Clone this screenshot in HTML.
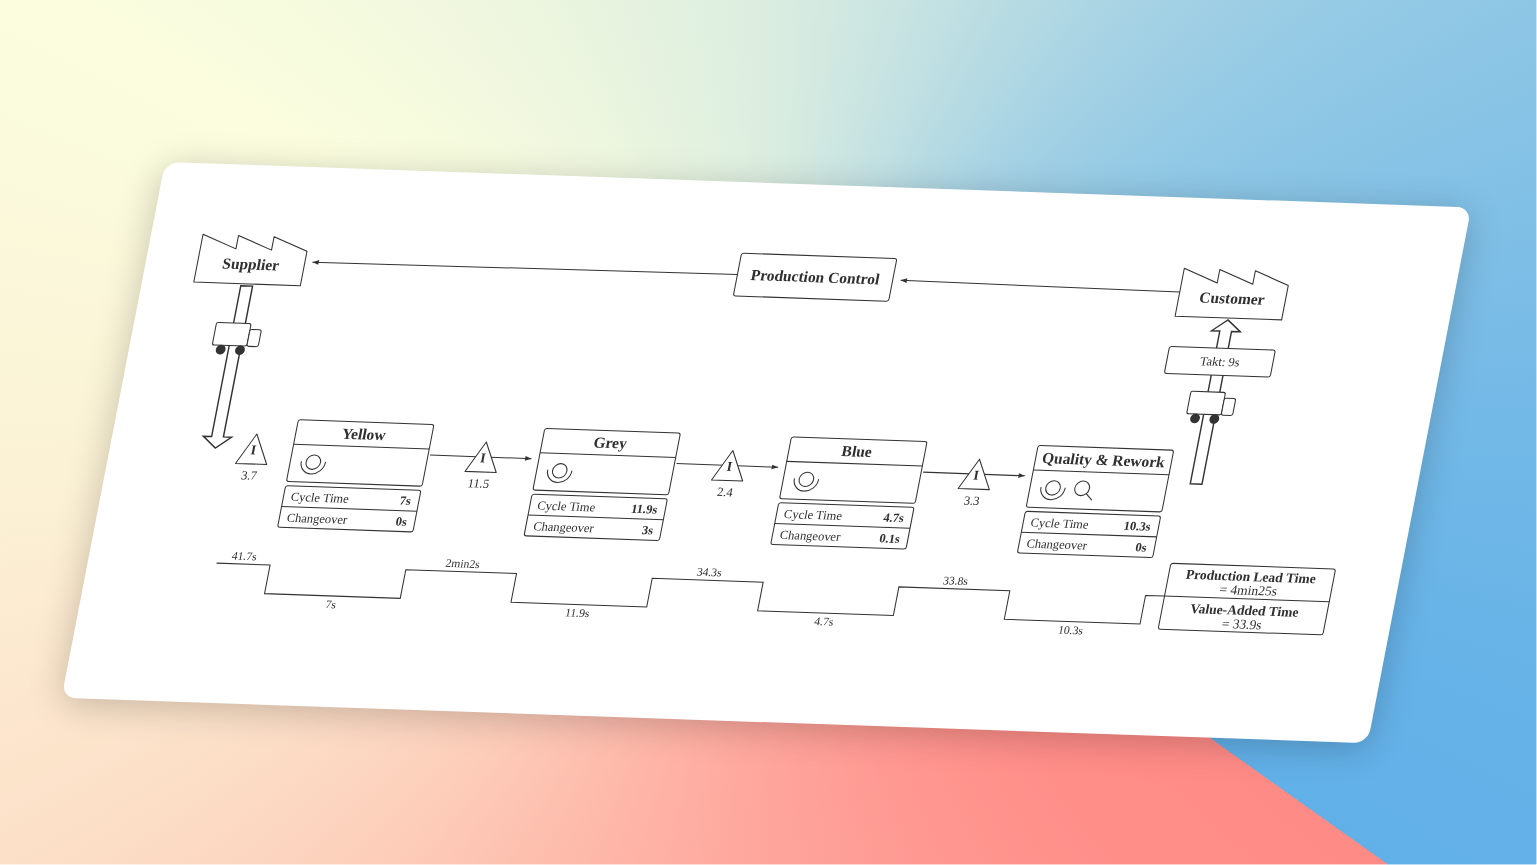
<!DOCTYPE html>
<html><head><meta charset="utf-8"><title>Value Stream Map</title>
<style>
html,body{margin:0;padding:0;background:#fff;}
body{width:1537px;height:865px;overflow:hidden;position:relative;font-family:"Liberation Serif",serif;}
#bg{position:absolute;left:0;top:0;width:1536px;height:864px;background:conic-gradient(from 125.4deg at 771.2px 426.1px, rgb(255,139,135) 0.00%, rgb(255,140,135) 1.67%, rgb(255,141,136) 3.33%, rgb(255,143,138) 5.00%, rgb(255,146,140) 6.67%, rgb(255,150,143) 8.33%, rgb(254,153,146) 10.00%, rgb(254,157,149) 11.67%, rgb(254,161,152) 13.33%, rgb(254,165,155) 15.00%, rgb(254,169,158) 16.67%, rgb(254,174,162) 18.33%, rgb(254,179,166) 20.00%, rgb(253,185,170) 21.67%, rgb(253,191,175) 23.33%, rgb(253,198,180) 25.00%, rgb(253,205,185) 26.67%, rgb(252,211,190) 28.33%, rgb(252,217,195) 30.00%, rgb(252,223,199) 31.67%, rgb(252,228,203) 33.33%, rgb(252,232,206) 35.00%, rgb(252,236,209) 36.67%, rgb(251,240,212) 38.33%, rgb(251,243,214) 40.00%, rgb(251,245,216) 41.67%, rgb(251,247,218) 43.33%, rgb(251,249,219) 45.00%, rgb(251,251,221) 46.67%, rgb(251,253,222) 48.33%, rgb(249,252,222) 50.00%, rgb(246,251,222) 51.67%, rgb(243,249,223) 53.33%, rgb(240,247,223) 55.00%, rgb(237,246,223) 56.67%, rgb(233,244,223) 58.33%, rgb(230,242,223) 60.00%, rgb(226,241,224) 61.67%, rgb(223,239,224) 63.33%, rgb(219,237,224) 65.00%, rgb(213,234,224) 66.67%, rgb(207,231,225) 68.33%, rgb(200,227,225) 70.00%, rgb(192,224,226) 71.67%, rgb(184,219,226) 73.33%, rgb(175,215,227) 75.00%, rgb(166,210,228) 76.67%, rgb(158,206,228) 78.33%, rgb(150,203,229) 80.00%, rgb(143,199,229) 81.67%, rgb(137,196,229) 83.33%, rgb(131,193,230) 85.00%, rgb(125,190,230) 86.67%, rgb(120,187,231) 88.33%, rgb(115,185,231) 90.00%, rgb(110,183,231) 91.67%, rgb(107,181,231) 93.33%, rgb(103,179,232) 95.00%, rgb(101,178,232) 96.67%, rgb(99,177,232) 98.33%, rgb(97,176,232) 100.00%);}
#edgeR{position:absolute;left:1536px;top:0;width:1px;height:865px;background:conic-gradient(from 125.4deg at 771.2px 426.1px, rgb(255,139,135) 0.00%, rgb(255,140,135) 1.67%, rgb(255,141,136) 3.33%, rgb(255,143,138) 5.00%, rgb(255,146,140) 6.67%, rgb(255,150,143) 8.33%, rgb(254,153,146) 10.00%, rgb(254,157,149) 11.67%, rgb(254,161,152) 13.33%, rgb(254,165,155) 15.00%, rgb(254,169,158) 16.67%, rgb(254,174,162) 18.33%, rgb(254,179,166) 20.00%, rgb(253,185,170) 21.67%, rgb(253,191,175) 23.33%, rgb(253,198,180) 25.00%, rgb(253,205,185) 26.67%, rgb(252,211,190) 28.33%, rgb(252,217,195) 30.00%, rgb(252,223,199) 31.67%, rgb(252,228,203) 33.33%, rgb(252,232,206) 35.00%, rgb(252,236,209) 36.67%, rgb(251,240,212) 38.33%, rgb(251,243,214) 40.00%, rgb(251,245,216) 41.67%, rgb(251,247,218) 43.33%, rgb(251,249,219) 45.00%, rgb(251,251,221) 46.67%, rgb(251,253,222) 48.33%, rgb(249,252,222) 50.00%, rgb(246,251,222) 51.67%, rgb(243,249,223) 53.33%, rgb(240,247,223) 55.00%, rgb(237,246,223) 56.67%, rgb(233,244,223) 58.33%, rgb(230,242,223) 60.00%, rgb(226,241,224) 61.67%, rgb(223,239,224) 63.33%, rgb(219,237,224) 65.00%, rgb(213,234,224) 66.67%, rgb(207,231,225) 68.33%, rgb(200,227,225) 70.00%, rgb(192,224,226) 71.67%, rgb(184,219,226) 73.33%, rgb(175,215,227) 75.00%, rgb(166,210,228) 76.67%, rgb(158,206,228) 78.33%, rgb(150,203,229) 80.00%, rgb(143,199,229) 81.67%, rgb(137,196,229) 83.33%, rgb(131,193,230) 85.00%, rgb(125,190,230) 86.67%, rgb(120,187,231) 88.33%, rgb(115,185,231) 90.00%, rgb(110,183,231) 91.67%, rgb(107,181,231) 93.33%, rgb(103,179,232) 95.00%, rgb(101,178,232) 96.67%, rgb(99,177,232) 98.33%, rgb(97,176,232) 100.00%);background-size:1536px 864px;background-position:-1535px 0;background-repeat:no-repeat;opacity:.44;}
#edgeB{position:absolute;left:0;top:864px;width:1537px;height:1px;background:conic-gradient(from 125.4deg at 771.2px 426.1px, rgb(255,139,135) 0.00%, rgb(255,140,135) 1.67%, rgb(255,141,136) 3.33%, rgb(255,143,138) 5.00%, rgb(255,146,140) 6.67%, rgb(255,150,143) 8.33%, rgb(254,153,146) 10.00%, rgb(254,157,149) 11.67%, rgb(254,161,152) 13.33%, rgb(254,165,155) 15.00%, rgb(254,169,158) 16.67%, rgb(254,174,162) 18.33%, rgb(254,179,166) 20.00%, rgb(253,185,170) 21.67%, rgb(253,191,175) 23.33%, rgb(253,198,180) 25.00%, rgb(253,205,185) 26.67%, rgb(252,211,190) 28.33%, rgb(252,217,195) 30.00%, rgb(252,223,199) 31.67%, rgb(252,228,203) 33.33%, rgb(252,232,206) 35.00%, rgb(252,236,209) 36.67%, rgb(251,240,212) 38.33%, rgb(251,243,214) 40.00%, rgb(251,245,216) 41.67%, rgb(251,247,218) 43.33%, rgb(251,249,219) 45.00%, rgb(251,251,221) 46.67%, rgb(251,253,222) 48.33%, rgb(249,252,222) 50.00%, rgb(246,251,222) 51.67%, rgb(243,249,223) 53.33%, rgb(240,247,223) 55.00%, rgb(237,246,223) 56.67%, rgb(233,244,223) 58.33%, rgb(230,242,223) 60.00%, rgb(226,241,224) 61.67%, rgb(223,239,224) 63.33%, rgb(219,237,224) 65.00%, rgb(213,234,224) 66.67%, rgb(207,231,225) 68.33%, rgb(200,227,225) 70.00%, rgb(192,224,226) 71.67%, rgb(184,219,226) 73.33%, rgb(175,215,227) 75.00%, rgb(166,210,228) 76.67%, rgb(158,206,228) 78.33%, rgb(150,203,229) 80.00%, rgb(143,199,229) 81.67%, rgb(137,196,229) 83.33%, rgb(131,193,230) 85.00%, rgb(125,190,230) 86.67%, rgb(120,187,231) 88.33%, rgb(115,185,231) 90.00%, rgb(110,183,231) 91.67%, rgb(107,181,231) 93.33%, rgb(103,179,232) 95.00%, rgb(101,178,232) 96.67%, rgb(99,177,232) 98.33%, rgb(97,176,232) 100.00%);background-size:1536px 864px;background-position:0 -863px;background-repeat:no-repeat;opacity:.44;}
#card{position:absolute;left:0;top:0;width:1306.6px;height:539.3px;background:#fff;border-radius:14px;
 transform-origin:0 0;transform:matrix(0.99939,0.03475,-0.19221,0.99406,165.1,161.95);
 box-shadow:0 6px 36px rgba(0,0,0,.21);}
svg{position:absolute;left:0;top:0;overflow:visible;filter:grayscale(1);}
.s{fill:#fff;stroke:#333;stroke-width:1.05;stroke-linejoin:round;}
.s2{fill:#fff;stroke:#333;stroke-width:1.45;stroke-linejoin:miter;}
.n{fill:none;stroke:#333;stroke-width:1.05;stroke-linecap:round;stroke-linejoin:miter;}
.f{fill:#333;stroke:none;}
text{font-family:"Liberation Serif",serif;fill:#303030;}
.b{font-weight:bold;}
.r{font-weight:normal;}
.t16{font-size:15.45px;}
.t14{font-size:13.5px;}
.t13{font-size:12.5px;}
.t12{font-size:11.6px;}
</style></head><body>
<div id="bg"></div><div id="edgeR"></div><div id="edgeB"></div>
<div id="card">
<svg width="1306.6" height="539.3" viewBox="0 0 1306.6 539.3">
<path class="s2" d="M99,121 L110.8,121 L110.8,272.7 L119.1,272.7 L104.9,284.1 L90.8,272.7 L99,272.7 Z"/>
<path class="s" d="M51.6,119.0 L51.6,70.9 L87.1,84.4 L87.1,70.9 L122.7,84.4 L122.7,70.9 L158.2,84.4 L158.2,119.0 Z"/>
<text class="b t16" x="104.9" y="104.5" text-anchor="middle">Supplier</text>
<rect class="s" x="82.0" y="158.6" width="34.6" height="22.6" rx="2"/>
<rect class="s" x="116.6" y="164.4" width="11.4" height="17" rx="2"/>
<circle class="f" cx="91.3" cy="185.6" r="4.85"/>
<circle class="f" cx="110.6" cy="185.6" r="4.85"/>
<path class="s2" d="M1080.8,286 L1080.8,132.3 L1072.5,132.3 L1086.8,120.9 L1101.2,132.3 L1092.5,132.3 L1092.5,286 Z"/>
<path class="s" d="M1033.5,119.0 L1033.5,70.9 L1069.0,84.4 L1069.0,70.9 L1104.6,84.4 L1104.6,70.9 L1140.1,84.4 L1140.1,119.0 Z"/>
<text class="b t16" x="1086.8" y="104.5" text-anchor="middle">Customer</text>
<rect class="s" x="1033.8" y="149.4" width="105.9" height="27.1" rx="2.2"/>
<text class="r t13" x="1086.7" y="167.1" text-anchor="middle">Takt: 9s</text>
<rect class="s" x="1063.7" y="193.5" width="34.6" height="22.6" rx="2"/>
<rect class="s" x="1098.3" y="199.3" width="11.4" height="17" rx="2"/>
<circle class="f" cx="1073.0" cy="220.5" r="4.85"/>
<circle class="f" cx="1092.3" cy="220.5" r="4.85"/>
<rect class="s" x="590.5" y="71.1" width="155.4" height="43" rx="2.2"/>
<text class="b t16" x="668.3" y="97.6" text-anchor="middle">Production Control</text>
<line class="s" x1="590.5" y1="92.5" x2="165.7" y2="95.1"/>
<path class="f" d="M165.7,95.1 L172.0,92.7 L172.0,97.4 Z"/>
<line class="s" x1="1033.4" y1="94.8" x2="753.8" y2="92.7"/>
<path class="f" d="M753.8,92.7 L760.1,90.4 L760.1,95.1 Z"/>
<line class="s" x1="319.7" y1="283.6" x2="421.2" y2="283.8"/>
<path class="f" d="M421.2,283.8 L414.9,286.1 L414.9,281.4 Z"/>
<line class="s" x1="566.3" y1="283.6" x2="668.0" y2="283.8"/>
<path class="f" d="M668.0,283.8 L661.7,286.1 L661.7,281.4 Z"/>
<line class="s" x1="813.1" y1="283.6" x2="914.8" y2="283.8"/>
<path class="f" d="M914.8,283.8 L908.5,286.1 L908.5,281.4 Z"/>
<path class="s" d="M143.5,268.7 L127.9,298.8 L159.1,298.8 Z"/>
<text class="b t14" x="143.3" y="289.2" text-anchor="middle">I</text>
<text class="r t13" x="143.7" y="314.5" text-anchor="middle">3.7</text>
<path class="s" d="M373.1,268.7 L357.5,298.8 L388.8,298.8 Z"/>
<text class="b t14" x="372.9" y="289.2" text-anchor="middle">I</text>
<text class="r t13" x="373.3" y="314.5" text-anchor="middle">11.5</text>
<path class="s" d="M619.8,268.7 L604.2,298.8 L635.4,298.8 Z"/>
<text class="b t14" x="619.6" y="289.2" text-anchor="middle">I</text>
<text class="r t13" x="620.0" y="314.5" text-anchor="middle">2.4</text>
<path class="s" d="M866.6,268.7 L851.0,298.8 L882.2,298.8 Z"/>
<text class="b t14" x="866.4" y="289.2" text-anchor="middle">I</text>
<text class="r t13" x="866.9" y="314.5" text-anchor="middle">3.3</text>
<rect class="s" x="182.0" y="253" width="135.7" height="62.1" rx="2.2"/>
<line class="s" x1="182.0" y1="277.6" x2="317.7" y2="277.6"/>
<text class="b t16" x="249.8" y="270.4" text-anchor="middle">Yellow</text>
<circle class="n" cx="205.0" cy="294.9" r="7.2"/>
<path class="n" d="M192.9,294.6 A12.1,12.1 0 0 0 217.1,294.6"/>
<rect class="s" x="182.0" y="319.2" width="135.4" height="41.9" rx="2.2"/>
<line class="s" x1="182.0" y1="340.2" x2="317.4" y2="340.2"/>
<text class="r t13" x="189.5" y="334.3">Cycle Time</text>
<text class="b t13" x="309.4" y="334.3" text-anchor="end">7s</text>
<text class="r t13" x="189.5" y="355.3">Changeover</text>
<text class="b t13" x="309.4" y="355.3" text-anchor="end">0s</text>
<rect class="s" x="428.6" y="253" width="135.7" height="62.1" rx="2.2"/>
<line class="s" x1="428.6" y1="277.6" x2="564.3" y2="277.6"/>
<text class="b t16" x="496.5" y="270.4" text-anchor="middle">Grey</text>
<circle class="n" cx="451.6" cy="294.9" r="7.2"/>
<path class="n" d="M439.5,294.6 A12.1,12.1 0 0 0 463.7,294.6"/>
<rect class="s" x="428.6" y="319.2" width="135.4" height="41.9" rx="2.2"/>
<line class="s" x1="428.6" y1="340.2" x2="564.0" y2="340.2"/>
<text class="r t13" x="436.1" y="334.3">Cycle Time</text>
<text class="b t13" x="556.0" y="334.3" text-anchor="end">11.9s</text>
<text class="r t13" x="436.1" y="355.3">Changeover</text>
<text class="b t13" x="556.0" y="355.3" text-anchor="end">3s</text>
<rect class="s" x="675.4" y="253" width="135.7" height="62.1" rx="2.2"/>
<line class="s" x1="675.4" y1="277.6" x2="811.1" y2="277.6"/>
<text class="b t16" x="743.2" y="270.4" text-anchor="middle">Blue</text>
<circle class="n" cx="698.4" cy="294.9" r="7.2"/>
<path class="n" d="M686.3,294.6 A12.1,12.1 0 0 0 710.5,294.6"/>
<rect class="s" x="675.4" y="319.2" width="135.4" height="41.9" rx="2.2"/>
<line class="s" x1="675.4" y1="340.2" x2="810.8" y2="340.2"/>
<text class="r t13" x="682.9" y="334.3">Cycle Time</text>
<text class="b t13" x="802.8" y="334.3" text-anchor="end">4.7s</text>
<text class="r t13" x="682.9" y="355.3">Changeover</text>
<text class="b t13" x="802.8" y="355.3" text-anchor="end">0.1s</text>
<rect class="s" x="922.2" y="253" width="135.7" height="62.1" rx="2.2"/>
<line class="s" x1="922.2" y1="277.6" x2="1057.9" y2="277.6"/>
<text class="b t16" x="990.1" y="270.4" text-anchor="middle">Quality &amp; Rework</text>
<circle class="n" cx="945.2" cy="294.9" r="7.2"/>
<path class="n" d="M933.1,294.6 A12.1,12.1 0 0 0 957.3,294.6"/>
<circle class="n" cx="974.2" cy="294.3" r="7.3"/>
<line class="n" x1="979.5" y1="299.6" x2="985.8" y2="305.5"/>
<rect class="s" x="922.2" y="319.2" width="135.4" height="41.9" rx="2.2"/>
<line class="s" x1="922.2" y1="340.2" x2="1057.6" y2="340.2"/>
<text class="r t13" x="929.7" y="334.3">Cycle Time</text>
<text class="b t13" x="1049.6" y="334.3" text-anchor="end">10.3s</text>
<text class="r t13" x="929.7" y="355.3">Changeover</text>
<text class="b t13" x="1049.6" y="355.3" text-anchor="end">0s</text>
<path class="n" d="M128.6,399.1 L181.8,399.1 L181.8,427.9 L317.6,427.9 L317.6,399.1 L428.4,399.1 L428.4,427.9 L564.2,427.9 L564.2,399.1 L675.2,399.1 L675.2,427.9 L811.0,427.9 L811.0,399.1 L922.0,399.1 L922.0,427.9 L1057.8,427.9 L1057.8,399.1 L1076.8,399.1"/>
<text class="r t12" x="154.5" y="394.9" text-anchor="middle">41.7s</text>
<text class="r t12" x="373.0" y="394.9" text-anchor="middle">2min2s</text>
<text class="r t12" x="619.7" y="394.9" text-anchor="middle">34.3s</text>
<text class="r t12" x="866.3" y="394.9" text-anchor="middle">33.8s</text>
<text class="r t12" x="249.8" y="440.2" text-anchor="middle">7s</text>
<text class="r t12" x="496.4" y="440.2" text-anchor="middle">11.9s</text>
<text class="r t12" x="743.2" y="440.2" text-anchor="middle">4.7s</text>
<text class="r t12" x="990.0" y="440.2" text-anchor="middle">10.3s</text>
<rect class="s" x="1076.8" y="366.1" width="164.8" height="66.3" rx="2.2"/>
<line class="s" x1="1076.8" y1="399.1" x2="1241.6" y2="399.1"/>
<text class="b t14" x="1159" y="381.1" text-anchor="middle">Production Lead Time</text>
<text class="r t14" x="1159" y="394.9" text-anchor="middle">= 4min25s</text>
<text class="b t14" x="1159" y="415.1" text-anchor="middle">Value-Added Time</text>
<text class="r t14" x="1159" y="429" text-anchor="middle">= 33.9s</text>
</svg>
</div>
</body></html>
